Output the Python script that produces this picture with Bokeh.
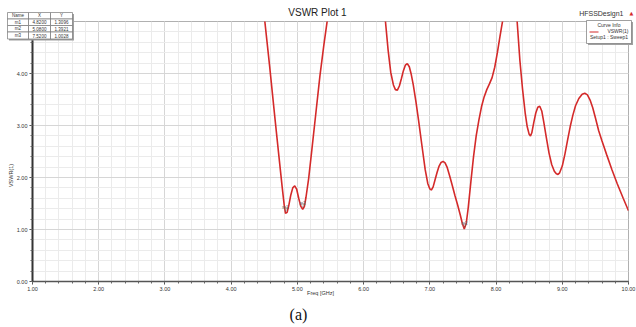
from bokeh.plotting import figure
from bokeh.models import FixedTicker, PrintfTickFormatter, Label, ColumnDataSource, Range1d
from bokeh.embed import file_html
from bokeh.resources import INLINE
from bokeh.core.properties import value

# ---- data ----
freq = [4.40, 4.50, 4.58, 4.66, 4.72, 4.77, 4.80, 4.82, 4.845, 4.87, 4.90, 4.93, 4.96, 4.99,
        5.02, 5.05, 5.08, 5.105, 5.13, 5.17, 5.22, 5.28, 5.34, 5.40, 5.46, 5.55,
        6.25, 6.33, 6.37, 6.41, 6.45, 6.48, 6.51, 6.54, 6.57, 6.60, 6.63, 6.66, 6.69, 6.72,
        6.75, 6.79, 6.83, 6.88, 6.93, 6.97, 7.00, 7.025, 7.05, 7.08, 7.11, 7.14, 7.17, 7.20,
        7.23, 7.26, 7.30, 7.34, 7.38, 7.42, 7.46, 7.49, 7.52, 7.55, 7.58, 7.62, 7.66, 7.70,
        7.74, 7.78, 7.82, 7.86, 7.90, 7.94, 7.98, 8.02, 8.06, 8.10, 8.14,
        8.28, 8.32, 8.36, 8.40, 8.44, 8.47, 8.50, 8.52, 8.54, 8.57, 8.60, 8.63, 8.66, 8.69,
        8.72, 8.76, 8.80, 8.84, 8.88, 8.91, 8.935, 8.96, 9.00, 9.04, 9.08, 9.12, 9.16, 9.20,
        9.25, 9.30, 9.34, 9.38, 9.42, 9.46, 9.50, 9.55, 9.60, 9.67, 9.75, 9.83, 9.92, 10.0]
vswr = [6.30, 5.10, 4.15, 3.15, 2.42, 1.82, 1.48, 1.31, 1.33, 1.46, 1.66, 1.80, 1.84, 1.77,
        1.60, 1.45, 1.39, 1.44, 1.62, 1.98, 2.55, 3.25, 3.95, 4.55, 5.10, 6.00,
        6.00, 5.00, 4.45, 4.02, 3.78, 3.69, 3.68, 3.76, 3.90, 4.05, 4.16, 4.19, 4.13, 3.98,
        3.78, 3.46, 3.10, 2.62, 2.15, 1.88, 1.78, 1.76, 1.82, 1.96, 2.10, 2.22, 2.29, 2.31,
        2.28, 2.20, 2.03, 1.84, 1.65, 1.47, 1.28, 1.12, 1.01, 1.12, 1.42, 1.92, 2.40, 2.80,
        3.10, 3.36, 3.55, 3.69, 3.80, 3.92, 4.12, 4.40, 4.72, 5.02, 5.40,
        5.60, 4.97, 4.25, 3.70, 3.24, 2.98, 2.83, 2.80, 2.86, 3.06, 3.24, 3.35, 3.37, 3.28,
        3.07, 2.76, 2.47, 2.25, 2.12, 2.07, 2.06, 2.09, 2.22, 2.45, 2.72, 2.98, 3.20, 3.38,
        3.52, 3.60, 3.62, 3.59, 3.49, 3.34, 3.15, 2.90, 2.70, 2.44, 2.15, 1.88, 1.60, 1.36]

marker_names = ["m1", "m2", "m3"]
marker_x = [4.82, 5.08, 7.52]
marker_y = [1.3096, 1.3921, 1.0028]

x_ticks = [1, 2, 3, 4, 5, 6, 7, 8, 9, 10]
y_ticks = [0, 1, 2, 3, 4]

title_text = "VSWR Plot 1"
design_text = "HFSSDesign1"
x_label = "Freq [GHz]"
y_label = "VSWR(1)"
legend_label = "VSWR(1)"
legend_sub = "Setup1 : Sweep1"
caption = "(a)"

FONT = "Liberation Sans"
RED = "#d42a2a"

W, H = 636, 327
ML, MR, MT, MB = 32, 8, 21, 46

# ---------------- main chart ----------------
p = figure(width=W, height=H, x_range=(1, 10), y_range=(0, 5),
           output_backend="svg", toolbar_location=None,
           min_border_left=ML, min_border_right=MR, min_border_top=MT, min_border_bottom=MB)
p.background_fill_color = "white"
p.border_fill_color = "white"
p.outline_line_color = "#b0b0b0"
p.outline_line_width = 1

p.xaxis.ticker = FixedTicker(ticks=x_ticks, minor_ticks=[1 + 0.2 * i for i in range(46)])
p.yaxis.ticker = FixedTicker(ticks=y_ticks, minor_ticks=[0.2 * i for i in range(26)])
p.xaxis.formatter = PrintfTickFormatter(format="%.2f")
p.yaxis.formatter = PrintfTickFormatter(format="%.2f")
for ax in (p.xaxis, p.yaxis):
    ax.major_label_text_font = FONT
    ax.major_label_text_font_size = "5.5px"
    ax.major_label_text_color = "#333333"
    ax.major_tick_out = 3
    ax.major_tick_in = 0
    ax.minor_tick_out = 2
    ax.minor_tick_in = 0
    ax.major_tick_line_color = "#444444"
    ax.minor_tick_line_color = "#666666"
    ax.major_label_standoff = 2
p.yaxis.axis_line_color = "#333333"
p.yaxis.axis_line_width = 2
p.xaxis.axis_line_color = "#555555"
p.xaxis.axis_line_width = 1.5

p.xgrid.grid_line_color = "#d6d6d6"
p.ygrid.grid_line_color = "#d6d6d6"
p.xgrid.minor_grid_line_color = "#ebebeb"
p.ygrid.minor_grid_line_color = "#ebebeb"

src = ColumnDataSource(dict(x=freq, y=vswr))
p.line("x", "y", source=src, line_color=RED, line_width=1.6)

msrc = ColumnDataSource(dict(x=marker_x, y=marker_y, name=marker_names,
                             tri=["\u25bd"] * len(marker_names)))
p.text("x", "y", text="tri", source=msrc, text_font=value("DejaVu Sans"), text_font_size="6px",
       text_color="#666666", text_align="center", text_baseline="bottom", y_offset=-1)
p.text("x", "y", text="name", source=msrc, text_font=value(FONT), text_font_size="4.5px",
       text_color="#666666", text_align="center", text_baseline="bottom", y_offset=-3)

# ---------------- overlay canvas for the texts around the frame ----------------
q = figure(width=W, height=H, x_range=Range1d(0, W), y_range=Range1d(H, 0),
           output_backend="svg", toolbar_location=None,
           x_axis_type=None, y_axis_type=None,
           min_border_left=0, min_border_right=0, min_border_top=0, min_border_bottom=0)
q.grid.visible = False
q.outline_line_color = None
q.background_fill_alpha = 0
q.border_fill_alpha = 0
q.margin = (-H, 0, 0, 0)


def lab(px, py, text, size, align="left", color="#222222", font=FONT, angle=0.0):
    q.add_layout(Label(x=px, y=py, text=text, text_font=font, text_font_size=size,
                       text_align=align, text_baseline="middle", text_color=color,
                       angle=angle))


lab(317, 12, title_text, "10px", align="center", color="#222222")
lab(623, 13, design_text, "7px", align="right", color="#333333")
lab(631, 12, "\u25b2", "5px", align="center", color=RED, font="DejaVu Sans")
lab(320, 292, x_label, "5.5px", align="center", color="#333333")
lab(10, 175, y_label, "5.5px", align="center", color="#333333", angle=1.5707963)
lab(298, 314, caption, "16px", align="center", color="#111111", font="Liberation Serif")

# marker table
col_edges = [7, 28, 50, 72]
row_edges = [12, 18.5, 25, 31.5, 38.5]
q.quad(left=[col_edges[0] + 1.5], right=[col_edges[-1] + 1.5], top=[row_edges[0] + 1.5],
       bottom=[row_edges[-1] + 1.5], fill_color="#a0a0a0", line_color=None)
cl, cr, ct, cb = [], [], [], []
for ri in range(4):
    for ci in range(3):
        cl.append(col_edges[ci]); cr.append(col_edges[ci + 1])
        ct.append(row_edges[ri]); cb.append(row_edges[ri + 1])
q.quad(left=cl, right=cr, top=ct, bottom=cb, fill_color="white", line_color="#777777", line_width=0.7)
header = ["Name", "X", "Y"]
rows = [header] + [[n, "%.4f" % x, "%.4f" % y] for n, x, y in zip(marker_names, marker_x, marker_y)]
for ri, row in enumerate(rows):
    cy = (row_edges[ri] + row_edges[ri + 1]) / 2
    for ci, t in enumerate(row):
        cx = (col_edges[ci] + col_edges[ci + 1]) / 2
        lab(cx, cy, t, "4.5px", align="center", color="#333333")

# curve info legend
q.quad(left=[587.5], right=[632.5], top=[21.5], bottom=[44.5], fill_color="#a0a0a0", line_color=None)
q.quad(left=[586], right=[631], top=[20], bottom=[43], fill_color="white", line_color="#777777",
       line_width=0.7)
lab(608.5, 24.5, "Curve Info", "5px", align="center", color="#333333")
q.quad(left=[589], right=[598], top=[31], bottom=[32], fill_color=RED, line_color=None)
lab(628, 30, legend_label, "5px", align="right", color="#333333")
lab(608.5, 36, legend_sub, "5px", align="center", color="#333333")

open("out.html", "w").write(file_html([p, q], INLINE))
